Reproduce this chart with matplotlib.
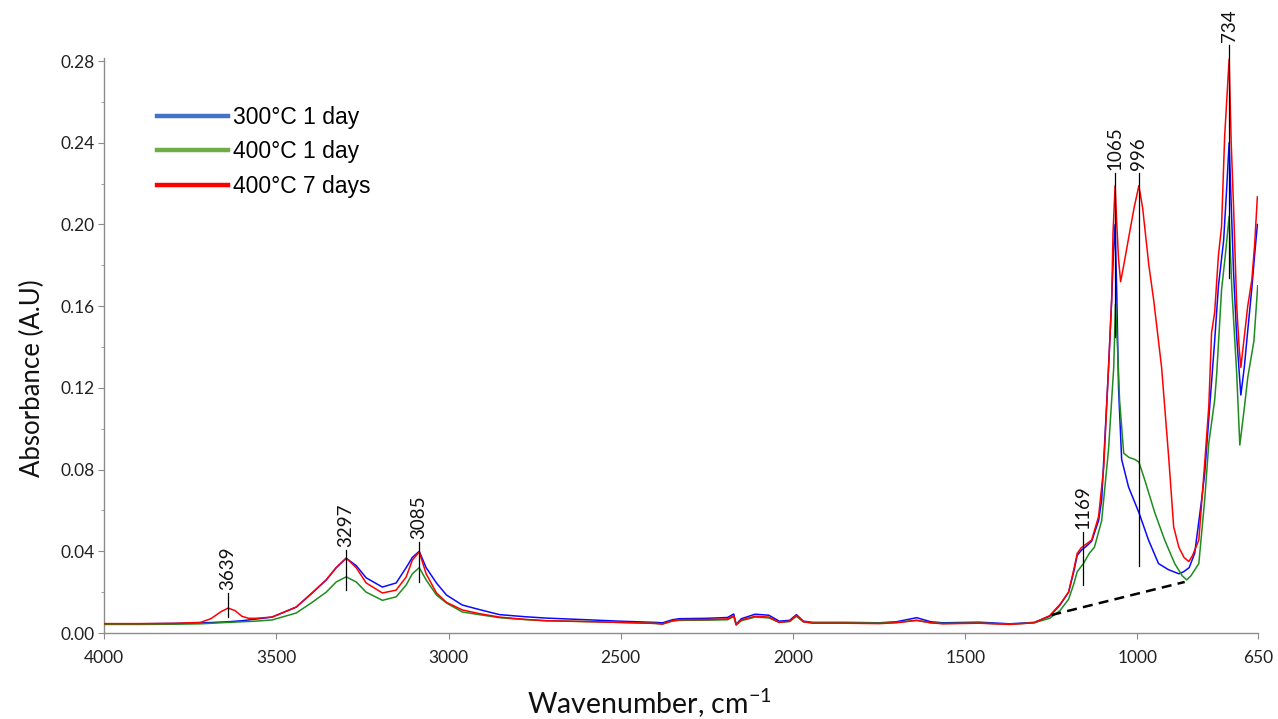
import matplotlib
matplotlib.use('Agg')
import matplotlib.pyplot as plt
from matplotlib.lines import Line2D
from matplotlib.ticker import MultipleLocator

# FTIR spectra
wn_300_1d = [4000, 3900, 3800, 3720, 3680, 3640, 3600, 3560, 3512, 3442, 3396, 3355, 3326, 3297,
             3268, 3239, 3192, 3152, 3123, 3105, 3085, 3065, 3035, 3006, 2960, 2911, 2852, 2780,
             2716, 2600, 2504, 2400, 2379, 2350, 2330, 2250, 2190, 2172, 2165, 2150, 2110, 2070,
             2040, 2010, 1990, 1970, 1943, 1850, 1750, 1700, 1641, 1600, 1565, 1460, 1371, 1300,
             1255, 1225, 1200, 1185, 1175, 1163, 1145, 1133, 1113, 1104, 1084, 1075, 1070, 1065,
             1060, 1055, 1046, 1026, 996, 968, 939, 910, 880, 866, 850, 834, 814, 805, 793, 776,
             765, 750, 742, 734, 728, 721, 712, 700, 690, 680, 668, 660, 652]
abs_300_1d = [0.0045, 0.0045, 0.0047, 0.0049, 0.0052, 0.0055, 0.0060, 0.0068, 0.0078, 0.0127,
              0.0196, 0.0260, 0.0320, 0.0366, 0.0330, 0.0270, 0.0225, 0.0245, 0.0320, 0.0370,
              0.0400, 0.0320, 0.0245, 0.0186, 0.0137, 0.0115, 0.0090, 0.0080, 0.0073, 0.0065,
              0.0058, 0.0052, 0.0050, 0.0065, 0.0070, 0.0072, 0.0076, 0.0093, 0.0042, 0.0070,
              0.0092, 0.0087, 0.0058, 0.0062, 0.0090, 0.0058, 0.0052, 0.0052, 0.0050, 0.0055,
              0.0075, 0.0055, 0.0050, 0.0053, 0.0045, 0.0052, 0.0082, 0.0137, 0.0200, 0.0300,
              0.0380, 0.0405, 0.0430, 0.0450, 0.0550, 0.0650, 0.1300, 0.1630, 0.1850, 0.2000,
              0.1650, 0.1200, 0.0850, 0.0715, 0.0590, 0.0455, 0.0340, 0.0310, 0.0290, 0.0300,
              0.0320, 0.0390, 0.0650, 0.0780, 0.1050, 0.1430, 0.1700, 0.1920, 0.2150, 0.2400,
              0.2100, 0.1760, 0.1450, 0.1165, 0.1300, 0.1480, 0.1690, 0.1850, 0.2000]

wn_400_1d = [4000, 3900, 3800, 3720, 3640, 3600, 3560, 3512, 3442, 3396, 3355, 3326, 3297, 3268,
             3239, 3192, 3152, 3123, 3105, 3085, 3065, 3035, 3006, 2960, 2911, 2852, 2780, 2716,
             2600, 2504, 2400, 2379, 2350, 2330, 2250, 2190, 2172, 2165, 2150, 2110, 2070, 2040,
             2010, 1990, 1970, 1943, 1850, 1750, 1700, 1641, 1600, 1565, 1460, 1371, 1300, 1255,
             1225, 1200, 1185, 1175, 1157, 1140, 1125, 1104, 1084, 1069, 1064, 1058, 1052, 1040,
             1025, 1008, 996, 979, 950, 921, 892, 870, 857, 845, 822, 805, 793, 776, 770, 756,
             745, 734, 730, 726, 712, 703, 690, 680, 662, 651]
abs_400_1d = [0.0042, 0.0042, 0.0043, 0.0045, 0.0052, 0.0055, 0.0058, 0.0064, 0.0098, 0.0150,
              0.0200, 0.0250, 0.0275, 0.0250, 0.0200, 0.0160, 0.0177, 0.0235, 0.0290, 0.0320,
              0.0260, 0.0186, 0.0147, 0.0103, 0.0090, 0.0075, 0.0066, 0.0060, 0.0056, 0.0052,
              0.0047, 0.0044, 0.0058, 0.0062, 0.0063, 0.0065, 0.0080, 0.0040, 0.0060, 0.0078,
              0.0074, 0.0052, 0.0056, 0.0082, 0.0055, 0.0050, 0.0050, 0.0049, 0.0052, 0.0062,
              0.0050, 0.0047, 0.0049, 0.0043, 0.0050, 0.0072, 0.0110, 0.0165, 0.0240, 0.0300,
              0.0340, 0.0390, 0.0420, 0.0550, 0.0900, 0.1300, 0.1610, 0.1400, 0.1140, 0.0880,
              0.0860, 0.0850, 0.0837, 0.0750, 0.0590, 0.0455, 0.0340, 0.0280, 0.0260, 0.0280,
              0.0340, 0.0650, 0.0930, 0.1140, 0.1270, 0.1680, 0.1850, 0.2040, 0.1850, 0.1680,
              0.1270, 0.0920, 0.1100, 0.1250, 0.1430, 0.1700]

wn_400_7d = [4000, 3900, 3800, 3720, 3690, 3660, 3640, 3620, 3600, 3580, 3560, 3512, 3442, 3396,
             3355, 3326, 3297, 3268, 3239, 3192, 3152, 3123, 3105, 3085, 3065, 3035, 3006, 2960,
             2911, 2852, 2780, 2716, 2600, 2504, 2400, 2379, 2350, 2330, 2250, 2190, 2172, 2165,
             2150, 2110, 2070, 2040, 2010, 1990, 1970, 1943, 1850, 1750, 1700, 1641, 1600, 1565,
             1460, 1371, 1300, 1255, 1225, 1200, 1185, 1175, 1163, 1145, 1133, 1113, 1098, 1084,
             1075, 1071, 1065, 1060, 1055, 1049, 1040, 1023, 1010, 996, 985, 967, 953, 930, 909,
             895, 880, 865, 851, 840, 822, 805, 793, 785, 776, 765, 756, 747, 734, 728, 721, 712,
             705, 700, 690, 680, 668, 660, 652]
abs_400_7d = [0.0046, 0.0046, 0.0047, 0.0052, 0.0070, 0.0105, 0.0122, 0.0110, 0.0082, 0.0072,
              0.0072, 0.0078, 0.0127, 0.0196, 0.0260, 0.0320, 0.0367, 0.0320, 0.0245, 0.0196,
              0.0210, 0.0274, 0.0357, 0.0397, 0.0290, 0.0196, 0.0150, 0.0113, 0.0095, 0.0078,
              0.0067, 0.0060, 0.0056, 0.0052, 0.0047, 0.0044, 0.0060, 0.0065, 0.0066, 0.0069,
              0.0085, 0.0040, 0.0064, 0.0082, 0.0078, 0.0052, 0.0058, 0.0086, 0.0055, 0.0048,
              0.0048, 0.0046, 0.0050, 0.0062, 0.0050, 0.0045, 0.0048, 0.0042, 0.0050, 0.0085,
              0.0140, 0.0200, 0.0310, 0.0390, 0.0418, 0.0440, 0.0455, 0.0570, 0.0810, 0.1300,
              0.1630, 0.1960, 0.2190, 0.2000, 0.1830, 0.1720, 0.1800, 0.1960, 0.2080, 0.2190,
              0.2080, 0.1800, 0.1630, 0.1300, 0.0850, 0.0520, 0.0420, 0.0370, 0.0350, 0.0380,
              0.0455, 0.0830, 0.1110, 0.1470, 0.1570, 0.1850, 0.1990, 0.2430, 0.2810, 0.2400,
              0.2080, 0.1600, 0.1400, 0.1300, 0.1450, 0.1600, 0.1730, 0.1900, 0.2135]

series_labels = ['300°C 1 day', '400°C 1 day', '400°C 7 days']

# baseline drawn under the 1250-860 band
baseline_wn = [1250, 863]
baseline_abs = [0.0088, 0.0250]

# peak markers: label, position, line bottom/top
peak_labels = ['3639', '3297', '3085', '1169', '1065', '996', '734']
peak_wn = [3641, 3297, 3087, 1157, 1066, 996, 734]
peak_low = [0.0078, 0.0210, 0.0250, 0.0235, 0.1450, 0.0330, 0.1740]
peak_high = [0.0196, 0.0406, 0.0445, 0.0494, 0.2252, 0.2252, 0.2878]

line_colors = ['#0a0aff', '#1e8c1e', '#ff0000']
legend_colors = ['#4472c4', '#70ad47', '#ff0000']

main_font = ['Lato', 'DejaVu Sans']
plt.rcParams['font.family'] = main_font
plt.rcParams['mathtext.default'] = 'regular'

fig = plt.figure(figsize=(12.78, 7.19), dpi=100)
ax = fig.add_axes([0.0814, 0.1196, 0.9030, 0.7997])

ax.plot(wn_300_1d, abs_300_1d, color=line_colors[0], lw=1.1, zorder=3)
ax.plot(wn_400_1d, abs_400_1d, color=line_colors[1], lw=1.1, zorder=3)
ax.plot(wn_400_7d, abs_400_7d, color=line_colors[2], lw=1.1, zorder=4)

ax.plot(baseline_wn, baseline_abs, color='black', lw=1.8, ls=(0, (4, 2.5)), zorder=5)

for lab, x, lo, hi in zip(peak_labels, peak_wn, peak_low, peak_high):
    ax.plot([x, x], [lo, hi], color='black', lw=0.9, zorder=5, clip_on=False)
    ax.annotate(lab, (x, hi), xytext=(0, 2), textcoords='offset points',
                rotation=90, ha='center', va='bottom', fontsize=13.5,
                color='#111111', annotation_clip=False)

ax.set_xlim(4000, 650)
ax.set_ylim(0, 0.2815)
ax.set_xticks([4000, 3500, 3000, 2500, 2000, 1500, 1000, 650])
ax.yaxis.set_major_locator(MultipleLocator(0.04))
ax.yaxis.set_minor_locator(MultipleLocator(0.02))
ax.yaxis.set_major_formatter(plt.FuncFormatter(lambda v, p: f'{v:.2f}'))

for s in ['top', 'right']:
    ax.spines[s].set_visible(False)
for s in ['left', 'bottom']:
    ax.spines[s].set_color('#8c8c8c')
    ax.spines[s].set_linewidth(1.0)

ax.tick_params(axis='y', which='major', length=4, color='#8c8c8c', pad=3, labelsize=12.5,
               labelcolor='#222222')
ax.tick_params(axis='y', which='minor', length=2.5, color='#8c8c8c')
ax.tick_params(axis='x', which='major', length=4, color='#8c8c8c', pad=8, labelsize=12.5,
               labelcolor='#222222')

ax.set_xlabel('Wavenumber, cm$^{-1}$', fontsize=20.5, color='#111111')
ax.xaxis.set_label_coords(0.473, -0.094)
ax.set_ylabel('Absorbance (A.U)', fontsize=18.5, color='#111111')
ax.yaxis.set_label_coords(-0.051, 0.443)

handles = [Line2D([], [], color=c, lw=3.2) for c in legend_colors]
ax.legend(handles, series_labels, loc='upper left', bbox_to_anchor=(0.046, 0.917),
          frameon=False, handlelength=3.1, handletextpad=0.22,
          labelspacing=0.50, borderpad=0, borderaxespad=0,
          prop={'family': ['Liberation Sans', 'DejaVu Sans'], 'size': 16.5})

fig.savefig('out.png', dpi=100)
